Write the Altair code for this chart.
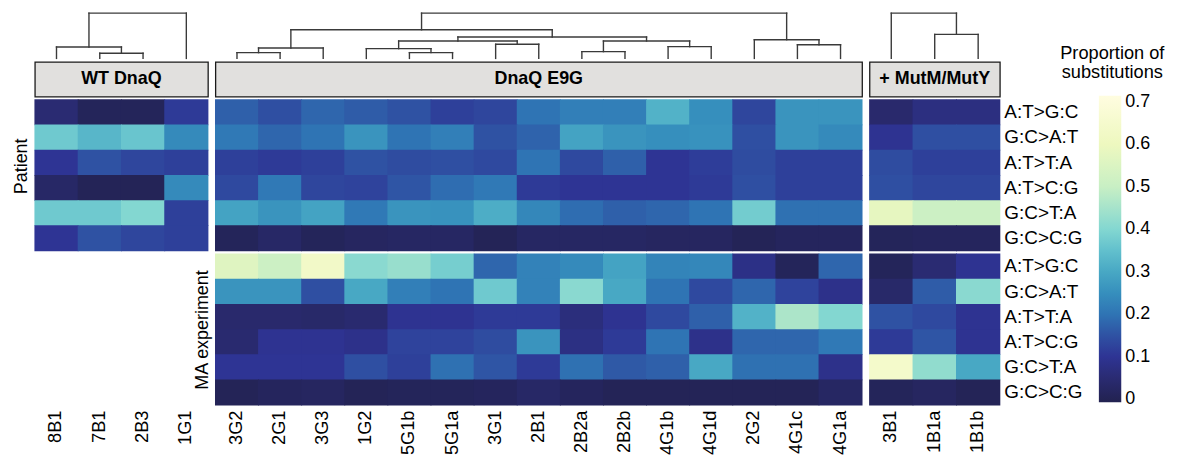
import altair as alt
import pandas as pd

FONT = "Liberation Sans"

rows = ["A:T>G:C", "G:C>A:T", "A:T>T:A", "A:T>C:G", "G:C>T:A", "G:C>C:G"]

wt_cols = ["8B1", "7B1", "2B3", "1G1"]
wt_patient = [
    [0.05, 0.01, 0.01, 0.11],
    [0.37, 0.33, 0.36, 0.24],
    [0.10, 0.15, 0.13, 0.12],
    [0.03, 0.005, 0.005, 0.24],
    [0.37, 0.37, 0.40, 0.12],
    [0.10, 0.15, 0.13, 0.12],
]

e9g_cols = ["3G2", "2G1", "3G3", "1G2", "5G1b", "5G1a", "3G1", "2B1",
            "2B2a", "2B2b", "4G1b", "4G1d", "2G2", "4G1c", "4G1a"]
e9g_patient = [
    [0.17, 0.145, 0.18, 0.165, 0.15, 0.12, 0.13, 0.20, 0.22, 0.22, 0.32, 0.25, 0.13, 0.26, 0.26],
    [0.21, 0.18, 0.20, 0.26, 0.20, 0.22, 0.15, 0.175, 0.29, 0.26, 0.25, 0.255, 0.145, 0.26, 0.24],
    [0.12, 0.11, 0.12, 0.15, 0.14, 0.145, 0.135, 0.20, 0.135, 0.17, 0.10, 0.115, 0.14, 0.12, 0.12],
    [0.135, 0.21, 0.13, 0.125, 0.155, 0.19, 0.21, 0.11, 0.10, 0.10, 0.10, 0.11, 0.145, 0.12, 0.12],
    [0.29, 0.26, 0.29, 0.21, 0.26, 0.255, 0.31, 0.235, 0.19, 0.17, 0.18, 0.20, 0.375, 0.195, 0.195],
    [0.01, 0.03, 0.01, 0.02, 0.025, 0.025, 0.005, 0.025, 0.025, 0.025, 0.02, 0.02, 0.005, 0.015, 0.015],
]
e9g_ma = [
    [0.56, 0.51, 0.63, 0.41, 0.43, 0.38, 0.18, 0.225, 0.24, 0.29, 0.23, 0.235, 0.08, 0.01, 0.18],
    [0.26, 0.26, 0.145, 0.30, 0.22, 0.20, 0.37, 0.225, 0.41, 0.30, 0.20, 0.135, 0.18, 0.125, 0.085],
    [0.04, 0.04, 0.035, 0.045, 0.095, 0.095, 0.11, 0.11, 0.065, 0.095, 0.135, 0.17, 0.32, 0.46, 0.40],
    [0.045, 0.095, 0.095, 0.085, 0.125, 0.125, 0.14, 0.26, 0.075, 0.11, 0.20, 0.085, 0.18, 0.18, 0.21],
    [0.10, 0.10, 0.10, 0.145, 0.12, 0.195, 0.155, 0.11, 0.195, 0.16, 0.17, 0.30, 0.195, 0.195, 0.085],
    [0.005, 0.015, 0.02, 0.005, 0.01, 0.01, 0.015, 0.03, 0.015, 0.005, 0.005, 0.005, 0.005, 0.005, 0.025],
]

mut_cols = ["3B1", "1B1a", "1B1b"]
mut_patient = [
    [0.04, 0.07, 0.07],
    [0.095, 0.145, 0.145],
    [0.14, 0.12, 0.12],
    [0.145, 0.13, 0.13],
    [0.58, 0.51, 0.51],
    [0.01, 0.015, 0.015],
]
mut_ma = [
    [0.01, 0.05, 0.095],
    [0.035, 0.165, 0.41],
    [0.15, 0.135, 0.095],
    [0.11, 0.155, 0.095],
    [0.64, 0.42, 0.30],
    [0.01, 0.02, 0.005],
]

# dendrogram merges: (left, right, height); "mK" = result of merge K
wt_left = ["7B1", "8B1", "m1"]
wt_right = ["2B3", "m0", "1G1"]
wt_height = [5.2, 11.5, 45.5]

e9g_left = ["3G2", "m0", "5G1b", "1G2", "3G1", "m3", "2B2a", "4G1b", "m6", "m5", "m1", "4G1c", "2G2", "m10"]
e9g_right = ["2G1", "3G3", "5G1a", "m2", "2B1", "m4", "2B2b", "4G1d", "m7", "m8", "m9", "4G1a", "m11", "m12"]
e9g_height = [5.8, 10.5, 5.8, 9.8, 14.2, 17.5, 6.8, 11.8, 17.5, 21.5, 28.8, 13.8, 18.8, 45.5]

mut_left = ["1B1a", "3B1"]
mut_right = ["1B1b", "m0"]
mut_height = [24.2, 45.5]

legend_values = [0, 0.1, 0.2, 0.3, 0.4, 0.5, 0.6, 0.7]
color_domain = [-0.007, 0.05, 0.1, 0.15, 0.2, 0.25, 0.3, 0.35, 0.4, 0.5, 0.6, 0.714]
color_range = ["#222250", "#2a2b72", "#2e3494", "#2f52a3", "#2f74b4", "#368fbd",
               "#48a8c4", "#62c0cd", "#83d7d1", "#c8efc4", "#eef8bf", "#fffde0"]

DH = 46.5
SH = 35
HH = 152
W_WT, W_E9G, W_MUT = 174, 650, 131


def heat_df(cols, vals):
    recs = []
    for r, rowvals in zip(rows, vals):
        for c, v in zip(cols, rowvals):
            recs.append({"col": c, "row": r, "v": v})
    return pd.DataFrame(recs)


def dendro_df(cols, lefts, rights, heights):
    pos = {c: i + 0.5 for i, c in enumerate(cols)}
    hgt = {c: 0.0 for c in cols}
    segs = []
    for i, (l, r, h) in enumerate(zip(lefts, rights, heights)):
        xl, xr = pos[l], pos[r]
        segs.append({"x": xl, "x2": xl, "y": hgt[l], "y2": h})
        segs.append({"x": xr, "x2": xr, "y": hgt[r], "y2": h})
        segs.append({"x": xl, "x2": xr, "y": h, "y2": h})
        pos[f"m{i}"] = (xl + xr) / 2
        hgt[f"m{i}"] = h
    return pd.DataFrame(segs)


color_enc = alt.Color(
    "v:Q",
    scale=alt.Scale(domain=color_domain, range=color_range, interpolate="rgb"),
    legend=alt.Legend(
        title=None, orient="none", legendX=1069.5, legendY=84, direction="vertical",
        gradientLength=308, gradientThickness=22.5, gradientStrokeWidth=0,
        labelFontSize=18, labelOffset=4, labelColor="black", labelFont=FONT,
        values=legend_values, format=".1~f", padding=0,
    ),
)

x_label_axis = alt.Axis(labelAngle=270, labelFontSize=18.3, labelPadding=5, ticks=False,
                        domain=False, title=None, labelColor="black", labelFont=FONT)
row_label_axis = alt.Axis(orient="right", title=None, ticks=False, domain=False,
                          labelFontSize=19, labelPadding=4, labelColor="black", labelFont=FONT)


def dendro(cols, l, r, h, width):
    return alt.Chart(dendro_df(cols, l, r, h)).mark_rule(
        color="#3a3a3a", strokeWidth=1.4, strokeCap="square"
    ).encode(
        x=alt.X("x:Q", scale=alt.Scale(domain=[0, len(cols)], nice=False, zero=False), axis=None),
        x2="x2:Q",
        y=alt.Y("y:Q", scale=alt.Scale(domain=[0, DH], nice=False), axis=None),
        y2="y2:Q",
    ).properties(width=width, height=DH)


def strip(name, width):
    return alt.Chart(pd.DataFrame({"label": [name]})).mark_text(
        fontSize=18, fontWeight="bold", font=FONT, color="black", baseline="middle", align="center"
    ).encode(
        text="label:N", x=alt.value(width / 2), y=alt.value(SH / 2)
    ).properties(width=width, height=SH,
                 view=alt.ViewBackground(fill="#e1e0de", stroke="#1a1a1a", strokeWidth=1.3))


def heat(cols, vals, width, xaxis, yaxis):
    # cells slightly wider than their band so neighbours overlap and no seams show
    return alt.Chart(heat_df(cols, vals)).mark_rect(
        width=alt.RelativeBandSize(band=1.02), height=alt.RelativeBandSize(band=1.03)
    ).encode(
        x=alt.X("col:N", scale=alt.Scale(domain=cols, paddingInner=0, paddingOuter=0), axis=xaxis),
        y=alt.Y("row:N", scale=alt.Scale(domain=rows, paddingInner=0, paddingOuter=0), axis=yaxis),
        color=color_enc,
    ).properties(width=width, height=HH)


# WT DnaQ
wt_heat = heat(wt_cols, wt_patient, W_WT, None,
               alt.Axis(title="Patient", labels=False, ticks=False, domain=False, titleFontSize=18,
                        titlePadding=4, titleY=66.5, titleColor="black", titleFont=FONT,
                        titleFontWeight="normal"))
wt_blank = alt.Chart(pd.DataFrame({"col": wt_cols})).mark_rect(opacity=0).encode(
    x=alt.X("col:N", scale=alt.Scale(domain=wt_cols, paddingInner=0, paddingOuter=0), axis=x_label_axis)
).properties(width=W_WT, height=HH)

# DnaQ E9G
e9g_ma_heat = heat(e9g_cols, e9g_ma, W_E9G, x_label_axis,
                   alt.Axis(title="MA experiment", labels=False, ticks=False, domain=False, titleFontSize=18,
                            titlePadding=4, titleColor="black", titleFont=FONT, titleFontWeight="normal"))

# + MutM/MutY (the legend title sits to the right of its dendrogram)
legend_title = alt.Chart(pd.DataFrame({"t": [0]})).mark_text(
    text=["Proportion of", "substitutions"], fontSize=18.3, lineHeight=18.5, font=FONT,
    align="center", baseline="alphabetic", color="black"
).encode(x=alt.value(244), y=alt.value(47.3))
mut_dendro = alt.layer(dendro(mut_cols, mut_left, mut_right, mut_height, W_MUT), legend_title).properties(
    width=W_MUT, height=DH)

cells = [
    dendro(wt_cols, wt_left, wt_right, wt_height, W_WT),
    dendro(e9g_cols, e9g_left, e9g_right, e9g_height, W_E9G),
    mut_dendro,
    strip("WT DnaQ", W_WT),
    strip("DnaQ E9G", W_E9G),
    strip("+ MutM/MutY", W_MUT),
    wt_heat,
    heat(e9g_cols, e9g_patient, W_E9G, None, None),
    heat(mut_cols, mut_patient, W_MUT, None, row_label_axis),
    wt_blank,
    e9g_ma_heat,
    heat(mut_cols, mut_ma, W_MUT, x_label_axis, row_label_axis),
]

chart = alt.concat(
    *cells, columns=3, spacing={"row": 3, "column": 7.5}, bounds="flush"
).resolve_scale(
    x="independent", y="independent", color="shared"
).properties(
    padding={"left": 5, "top": 3, "right": 5, "bottom": 5}
).configure(font=FONT).configure_view(strokeWidth=0)

chart.save("out.html", embed_options={"renderer": "svg", "actions": False})
